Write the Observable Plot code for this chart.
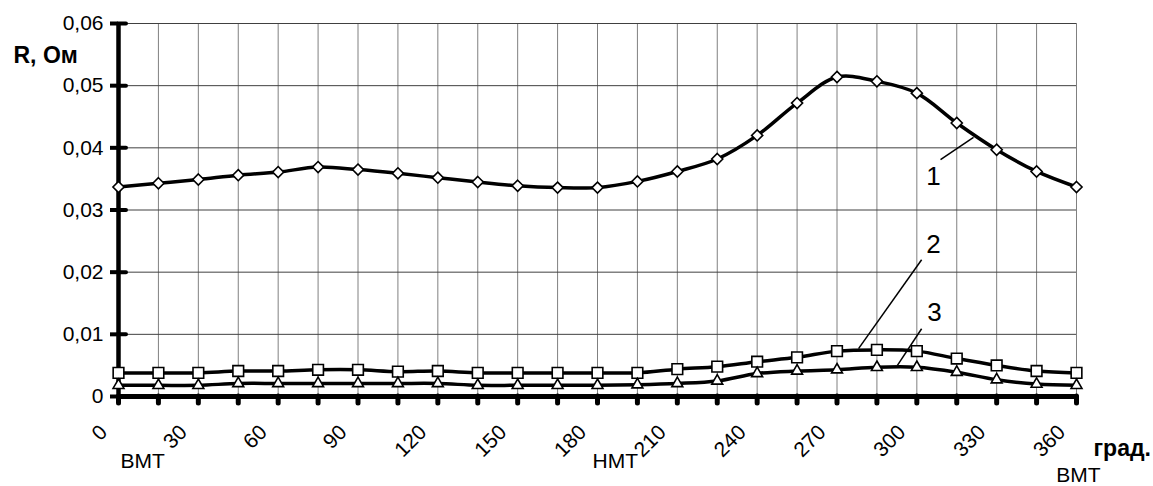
<!DOCTYPE html>
<html>
<head>
<meta charset="utf-8">
<script src="https://cdn.jsdelivr.net/npm/d3@7"></script>
<script src="https://cdn.jsdelivr.net/npm/@observablehq/plot@0.6"></script>
<style>
  html, body { margin: 0; padding: 0; background: white; }
  #chart svg { display: block; }
</style>
</head>
<body>
<div id="chart"></div>
<script>
// crank angle, degrees
const degrees = [0,15,30,45,60,75,90,105,120,135,150,165,180,195,210,225,240,255,270,285,300,315,330,345,360];
// series 1 (diamonds), R, Ohm
const r1 = [0.0337,0.0343,0.0349,0.0356,0.0361,0.0369,0.0365,0.0359,0.0352,0.0345,0.0339,0.0336,0.0336,0.0346,0.0362,0.0382,0.0420,0.0472,0.0514,0.0507,0.0488,0.0440,0.0397,0.0362,0.0337];
// series 2 (squares)
const r2 = [0.0038,0.0038,0.0038,0.0041,0.0041,0.0043,0.0043,0.0040,0.0041,0.0038,0.0038,0.0038,0.0038,0.0038,0.0044,0.0048,0.0056,0.0063,0.0073,0.0075,0.0073,0.0061,0.0050,0.0041,0.0038];
// series 3 (triangles)
const r3 = [0.0018,0.0018,0.0018,0.0021,0.0021,0.0021,0.0021,0.0021,0.0021,0.0018,0.0018,0.0018,0.0018,0.0019,0.0021,0.0025,0.0037,0.0041,0.0043,0.0047,0.0047,0.0039,0.0027,0.0020,0.0018];
// axis tick labels
const xLabels = [0,30,60,90,120,150,180,210,240,270,300,330,360];
const yTicks = [0,0.01,0.02,0.03,0.04,0.05,0.06];
// position markers under the axis
const deadCentres = [
  {text: "ВМТ", x: 0, anchor: "start"},
  {text: "НМТ", x: 180, anchor: "start"},
  {text: "ВМТ", x: 360, anchor: "middle"}
];
// curve numbers and their leader lines
const curveNames = ["1", "2", "3"];
const nameX = [306.3, 306.3, 306.6];
const nameY = [0.0353, 0.0244, 0.0135];
const leaderX1 = [308.9, 301.8, 301.8];
const leaderY1 = [0.0381, 0.0220, 0.0109];
const leaderX2 = [321.3, 278.1, 292.7];
const leaderY2 = [0.0417, 0.0077, 0.0050];

const rows = (vals, s) => degrees.map((d, i) => ({deg: d, r: vals[i], s}));
const s1 = rows(r1, "1"), s2 = rows(r2, "2"), s3 = rows(r3, "3");
const names = curveNames.map((t, i) => ({t, x: nameX[i], y: nameY[i]}));
const leaders = curveNames.map((t, i) => ({x1: leaderX1[i], y1: leaderY1[i], x2: leaderX2[i], y2: leaderY2[i]}));
const fmt = d => d === 0 ? "0" : d.toFixed(2).replace(".", ",");
const FONT = "'Liberation Sans', Arial, sans-serif";

const lineOpts = {x: "deg", y: "r", curve: "catmull-rom", stroke: "black", strokeWidth: 3.5};
const dotOpts = {x: "deg", y: "r", fill: "white", stroke: "black", strokeWidth: 1.6};

const chart = Plot.plot({
  width: 1153,
  height: 486,
  marginLeft: 118,
  marginRight: 77,
  marginTop: 23,
  marginBottom: 90,
  style: {fontFamily: FONT, fontSize: "21px", color: "black", background: "white"},
  x: {domain: [0, 360]},
  y: {domain: [0, 0.06]},
  marks: [
    Plot.gridX(degrees, {stroke: "#808080", strokeOpacity: 1, strokeWidth: 1}),
    Plot.gridY(yTicks, {stroke: "#404040", strokeOpacity: 1, strokeWidth: 1}),
    Plot.axisX(degrees, {tickSize: 7, strokeWidth: 5, strokeLinecap: "round", tickFormat: () => "", label: null}),
    Plot.axisY(yTicks, {tickSize: 8, strokeWidth: 4, tickPadding: 7, tickFormat: fmt, label: null, fontSize: 21}),
    Plot.ruleY(yTicks, {x1: 0, x2: 3, strokeWidth: 4, strokeLinecap: "round"}),
    Plot.ruleX([0], {stroke: "black", strokeWidth: 4.5}),
    Plot.ruleY([0], {stroke: "black", strokeWidth: 5}),
    Plot.line(s1, lineOpts),
    Plot.line(s2, lineOpts),
    Plot.line(s3, lineOpts),
    Plot.dot(s1, {...dotOpts, symbol: "diamond2", r: 5}),
    Plot.dot(s2, {...dotOpts, symbol: "square2", r: 6.8}),
    Plot.dot(s3, {...dotOpts, symbol: "triangle2", r: 5.2}),
    Plot.link(leaders, {x1: "x1", y1: "y1", x2: "x2", y2: "y2", stroke: "black", strokeWidth: 1.5}),
    Plot.text(names, {x: "x", y: "y", text: "t", fontSize: 26, fill: "black"}),
    Plot.text(xLabels, {x: d => d, frameAnchor: "bottom", text: d => String(d), rotate: -45, textAnchor: "end", dx: -10, dy: 37, fontSize: 21, fill: "black"}),
    Plot.text(deadCentres.slice(0, 1), {x: "x", frameAnchor: "bottom", text: "text", textAnchor: "start", dx: 2, dy: 71, fontSize: 21, fill: "black"}),
    Plot.text(deadCentres.slice(1, 2), {x: "x", frameAnchor: "bottom", text: "text", textAnchor: "start", dx: -5, dy: 71, fontSize: 21, fill: "black"}),
    Plot.text(deadCentres.slice(2), {x: "x", frameAnchor: "bottom", text: "text", textAnchor: "middle", dx: 2, dy: 85, fontSize: 21, fill: "black"}),
    Plot.text(["град."], {x: 360, frameAnchor: "bottom", text: d => d, textAnchor: "start", dx: 17, dy: 59, fontSize: 23, fontWeight: "bold", fill: "black"}),
    Plot.text(["R, Ом"], {frameAnchor: "top-left", text: d => d, textAnchor: "start", dx: -105, dy: 23, fontSize: 23, fontWeight: "bold", fill: "black"})
  ]
});
document.getElementById("chart").append(chart);
</script>
</body>
</html>
